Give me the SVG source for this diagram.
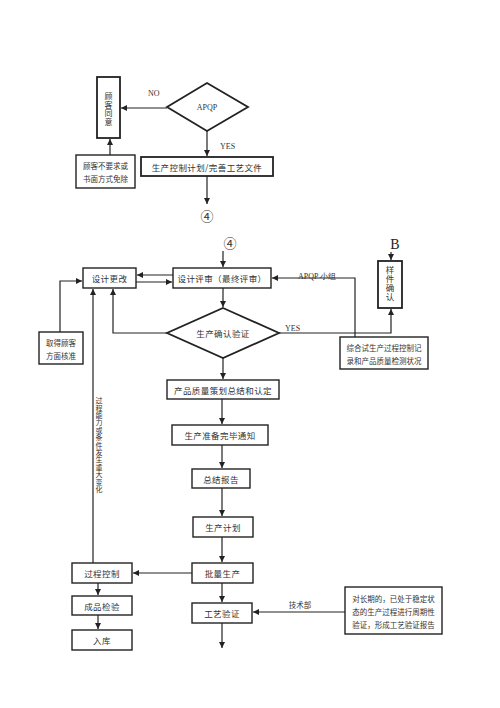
<svg xmlns="http://www.w3.org/2000/svg" width="500" height="708" viewBox="0 0 500 708">
<style>
.box{fill:#fff;stroke:#222;stroke-width:1.4}
.tbox{fill:#fff;stroke:#222;stroke-width:1.8}
.c{fill:none;stroke:#222;stroke-width:1.2}
.t{font-family:"Noto Sans CJK SC","Noto Sans",sans-serif;font-size:8.5px;fill:#333;text-anchor:middle;dominant-baseline:central;letter-spacing:0.4px}
.s{font-family:"Noto Sans CJK SC","Noto Sans",sans-serif;font-size:7.5px;fill:#333;text-anchor:middle;dominant-baseline:central}
.v{writing-mode:vertical-rl;font-family:"Noto Sans CJK SC","Noto Sans",sans-serif;fill:#333;text-anchor:start}
.l{font-family:"Liberation Serif",serif;font-size:8px;fill:#333;dominant-baseline:central}
</style>
<defs>
<marker id="a" viewBox="0 0 8 8" refX="8" refY="4" markerWidth="6" markerHeight="6" markerUnits="userSpaceOnUse" orient="auto">
<path d="M0,0 L8,4 L0,8 z" fill="#222"/>
</marker>
</defs>
<rect width="500" height="708" fill="#fff"/>
<g id="connectors">
<path class="c" d="M167,108 H121" marker-end="url(#a)"/>
<path class="c" d="M207,131 V156" marker-end="url(#a)"/>
<path class="c" d="M207,176 V204" marker-end="url(#a)"/>
<path class="c" d="M110,155 V139" marker-end="url(#a)"/>
<path class="c" d="M223,251 V267" marker-end="url(#a)"/>
<path class="c" d="M173,275 H137" marker-end="url(#a)"/>
<path class="c" d="M136,282 H172" marker-end="url(#a)"/>
<path class="c" d="M223,288 V307" marker-end="url(#a)"/>
<path class="c" d="M167,333 H113 V289" marker-end="url(#a)"/>
<path class="c" d="M60,332 V281 H82" marker-end="url(#a)"/>
<path class="c" d="M93,563 V289" marker-end="url(#a)"/>
<path class="c" d="M279,333 H391 V309" marker-end="url(#a)"/>
<path class="c" d="M391,252 V260" marker-end="url(#a)"/>
<path class="c" d="M355,337 V278 H272" marker-end="url(#a)"/>
<path class="c" d="M223,358 V379" marker-end="url(#a)"/>
<path class="c" d="M222,399 V424" marker-end="url(#a)"/>
<path class="c" d="M222,445 V468" marker-end="url(#a)"/>
<path class="c" d="M222,488 V516" marker-end="url(#a)"/>
<path class="c" d="M222,537 V562" marker-end="url(#a)"/>
<path class="c" d="M222,583 V602" marker-end="url(#a)"/>
<path class="c" d="M222,623 V648" marker-end="url(#a)"/>
<path class="c" d="M192,573 H133" marker-end="url(#a)"/>
<path class="c" d="M98,583 V595" marker-end="url(#a)"/>
<path class="c" d="M98,615 V629" marker-end="url(#a)"/>
<path class="c" d="M345,612 H253" marker-end="url(#a)"/>
<text class="l" x="148" y="93">NO</text>
<text class="l" x="220" y="146">YES</text>
<text class="l" x="298" y="276" font-size="7">APQP 小组</text>
<text class="l" x="285" y="328">YES</text>
<text class="s" x="300" y="604" font-size="6.5">技术部</text>
<text class="v" x="99" y="397" font-size="7" letter-spacing="0.4">过程能力或条件发生重大变化</text>
</g>
<g id="n_guke_tongyi"><rect class="tbox" x="97" y="77" width="23" height="61"/><text class="v" x="108.5" y="92" font-size="8" letter-spacing="0.5">顾客同意</text></g>
<g id="n_apqp"><polygon class="tbox" points="207,83 248,107 207,131 167,107"/><text class="l" x="207" y="107" text-anchor="middle">APQP</text></g>
<g id="n_shengchan_kongzhi"><rect class="tbox" x="141" y="157" width="132" height="19"/><text class="t" x="207" y="166.5">生产控制计划/完善工艺文件</text></g>
<g id="n_guke_bu"><rect class="box" x="76" y="155" width="59" height="33"/><text class="s" x="105.5" y="165">顾客不要求或</text><text class="s" x="105.5" y="178">书面方式免除</text></g>
<g id="n_c4a"><text x="207" y="215" font-family="Noto Sans CJK SC,sans-serif" font-size="13" fill="#333" text-anchor="middle" dominant-baseline="central">④</text></g>
<g id="n_c4b"><text x="230" y="242" font-family="Noto Sans CJK SC,sans-serif" font-size="13" fill="#333" text-anchor="middle" dominant-baseline="central">④</text></g>
<g id="n_sheji_pingshen"><rect class="box" x="173" y="268" width="98" height="20"/><text class="t" x="222" y="278">设计评审（最终评审）</text></g>
<g id="n_sheji_genggai"><rect class="box" x="83" y="268" width="53" height="20"/><text class="t" x="109.5" y="278">设计更改</text></g>
<g id="n_queren"><polygon class="tbox" points="223,308 279,333 223,358 167,333"/><text class="t" x="223" y="333">生产确认验证</text></g>
<g id="n_qude"><rect class="box" x="39" y="332" width="44" height="32"/><text class="s" x="61" y="342">取得顾客</text><text class="s" x="61" y="355">方面核准</text></g>
<g id="n_B"><text x="395" y="244" font-family="Liberation Serif,serif" font-size="14" fill="#222" text-anchor="middle" dominant-baseline="central">B</text></g>
<g id="n_yangjian"><rect class="tbox" x="378" y="261" width="24" height="47"/><text class="v" x="390" y="265.5" font-size="8.5" letter-spacing="0.5">样件确认</text></g>
<g id="n_zonghe"><rect class="box" x="340" y="337" width="88" height="32"/><text class="s" x="384" y="347">综合试生产过程控制记</text><text class="s" x="384" y="360">录和产品质量检测状况</text></g>
<g id="n_chanpin"><rect class="box" x="167" y="380" width="112" height="19"/><text class="t" x="223" y="389.5">产品质量策划总结和认定</text></g>
<g id="n_zhunbei"><rect class="box" x="172" y="425" width="96" height="20"/><text class="t" x="220" y="435">生产准备完毕通知</text></g>
<g id="n_zongjie"><rect class="box" x="192" y="469" width="58" height="19"/><text class="t" x="221" y="478.5">总结报告</text></g>
<g id="n_jihua"><rect class="box" x="193" y="517" width="60" height="20"/><text class="t" x="223" y="527">生产计划</text></g>
<g id="n_piliang"><rect class="box" x="192" y="563" width="61" height="20"/><text class="t" x="222.5" y="573">批量生产</text></g>
<g id="n_gongyi"><rect class="box" x="192" y="603" width="60" height="20"/><text class="t" x="222" y="613">工艺验证</text></g>
<g id="n_guocheng"><rect class="box" x="72" y="563" width="60" height="20"/><text class="t" x="102" y="573">过程控制</text></g>
<g id="n_chengpin"><rect class="box" x="72" y="596" width="60" height="19"/><text class="t" x="102" y="605.5">成品检验</text></g>
<g id="n_ruku"><rect class="box" x="72" y="630" width="60" height="20"/><text class="t" x="102" y="640">入库</text></g>
<g id="n_changqi"><rect class="box" x="345" y="587" width="97" height="47"/><text class="s" x="393.5" y="598">对长期的，已处于稳定状</text><text class="s" x="393.5" y="611">态的生产过程进行周期性</text><text class="s" x="393.5" y="624">验证，形成工艺验证报告</text></g>
</svg>
